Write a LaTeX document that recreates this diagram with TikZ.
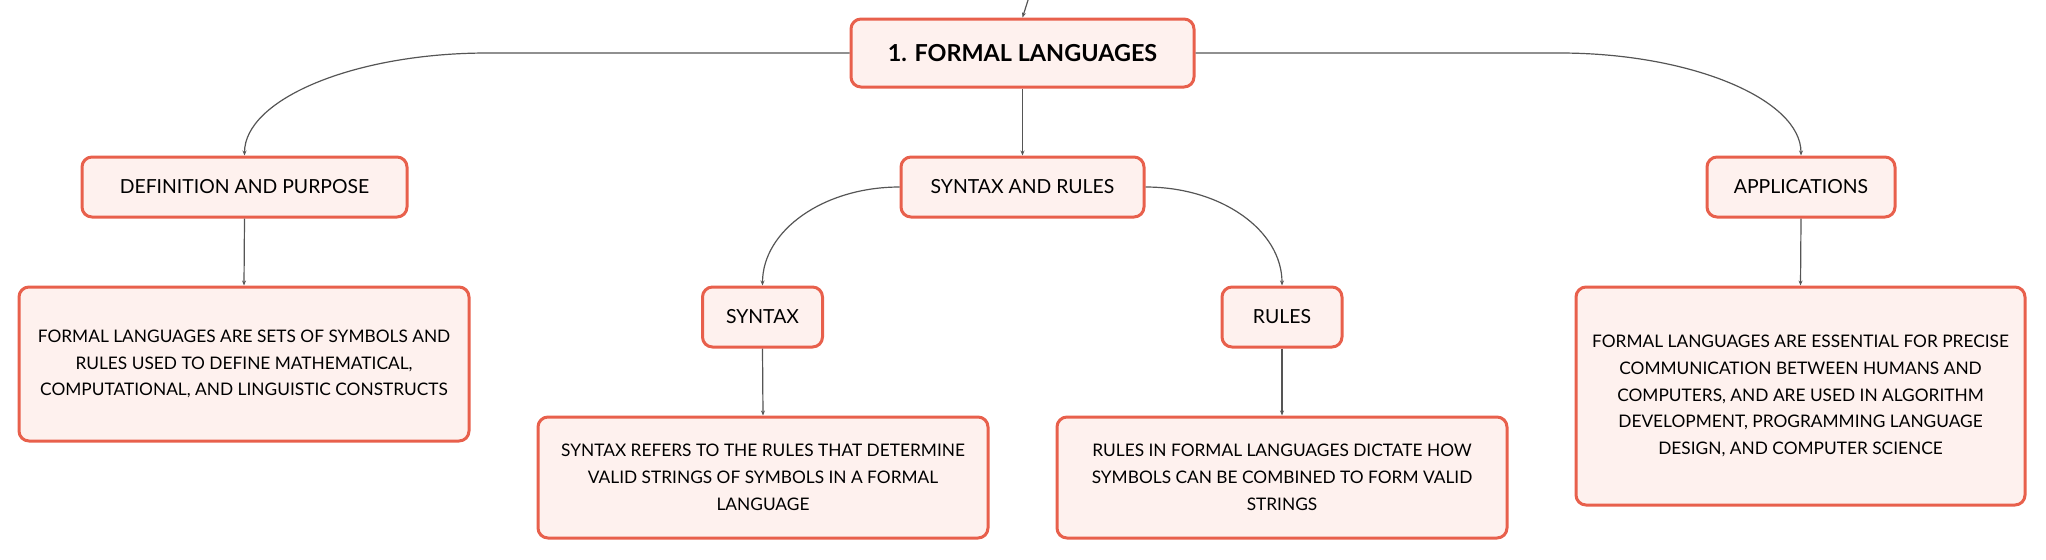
\documentclass[tikz,border=0pt]{standalone}
\usepackage{fontspec}
\setmainfont{Lato}
\usepackage{tikz}
\usetikzlibrary{arrows.meta, positioning}
\usepackage{xcolor}
\definecolor{boxline}{HTML}{E8604C}
\definecolor{boxfill}{HTML}{FEF1EE}
\definecolor{linkgray}{HTML}{555555}
\tikzset{
  topic/.style={draw=boxline, fill=boxfill, line width=1.5pt, rounded corners=5pt, inner sep=0pt, align=center, text=black},
  headbox/.style={topic, font=\fontsize{11.7}{14}\selectfont\bfseries},
  labelbox/.style={topic, font=\fontsize{9.7}{12}\selectfont},
  notebox/.style={topic, font=\fontsize{8.65}{13.4}\selectfont},
  link/.style={draw=linkgray, line width=0.6pt, -{Stealth[length=2.5pt,width=2pt]}}
}
\begin{document}
\begin{tikzpicture}[x=0.5pt,y=-0.5pt]
		\useasboundingbox (0,0) rectangle (2046,559);
		\coordinate (up) at (1036,-25);
		\node[headbox, minimum width=171.5pt, minimum height=34pt] (root) at (1022.5,53) {1. FORMAL LANGUAGES};
		\node[labelbox, minimum width=162.5pt, minimum height=30pt] (def) at (244.5,187) {DEFINITION AND PURPOSE};
		\node[labelbox, minimum width=121.5pt, minimum height=30pt] (synrules) at (1022.5,187) {SYNTAX AND RULES};
		\node[labelbox, minimum width=94pt, minimum height=30pt] (apps) at (1801,187) {APPLICATIONS};
		\node[labelbox, minimum width=60pt, minimum height=30pt] (syn) at (762.5,317) {SYNTAX};
		\node[labelbox, minimum width=60pt, minimum height=30pt] (rul) at (1282,317) {RULES};
		\node[notebox, minimum width=225pt, minimum height=77pt] (deftext) at (244,364) {FORMAL LANGUAGES ARE SETS OF SYMBOLS AND\\RULES USED TO DEFINE MATHEMATICAL,\\COMPUTATIONAL, AND LINGUISTIC CONSTRUCTS};
		\node[notebox, minimum width=225pt, minimum height=60.5pt] (syntext) at (763,477.5) {SYNTAX REFERS TO THE RULES THAT DETERMINE\\VALID STRINGS OF SYMBOLS IN A FORMAL\\LANGUAGE};
		\node[notebox, minimum width=225pt, minimum height=60.5pt] (rultext) at (1282,477.5) {RULES IN FORMAL LANGUAGES DICTATE HOW\\SYMBOLS CAN BE COMBINED TO FORM VALID\\STRINGS};
		\node[notebox, minimum width=224.5pt, minimum height=109pt] (appstext) at (1800.5,396) {FORMAL LANGUAGES ARE ESSENTIAL FOR PRECISE\\COMMUNICATION BETWEEN HUMANS AND\\COMPUTERS, AND ARE USED IN ALGORITHM\\DEVELOPMENT, PROGRAMMING LANGUAGE\\DESIGN, AND COMPUTER SCIENCE};

		\draw[link] (up) -- (root.north);
		\draw[link] (root.south) -- (synrules.north);
		\draw[link] (root.west) -- ++(-181pt,0) .. controls +(-67pt,0) and +(0,28pt) .. (def.north);
		\draw[link] (root.east) -- ++(182pt,0) .. controls +(66pt,0) and +(0,28pt) .. (apps.north);
		\draw[link] (synrules.west) .. controls +(-38pt,0) and +(0,27.5pt) .. (syn.north);
		\draw[link] (synrules.east) .. controls +(38pt,0) and +(0,27.5pt) .. (rul.north);
		\draw[link] (def.south) -- (deftext.north);
		\draw[link] (syn.south) -- (syntext.north);
		\draw[link] (rul.south) -- (rultext.north);
		\draw[link] (apps.south) -- (appstext.north);
	\end{tikzpicture}
\end{document}
